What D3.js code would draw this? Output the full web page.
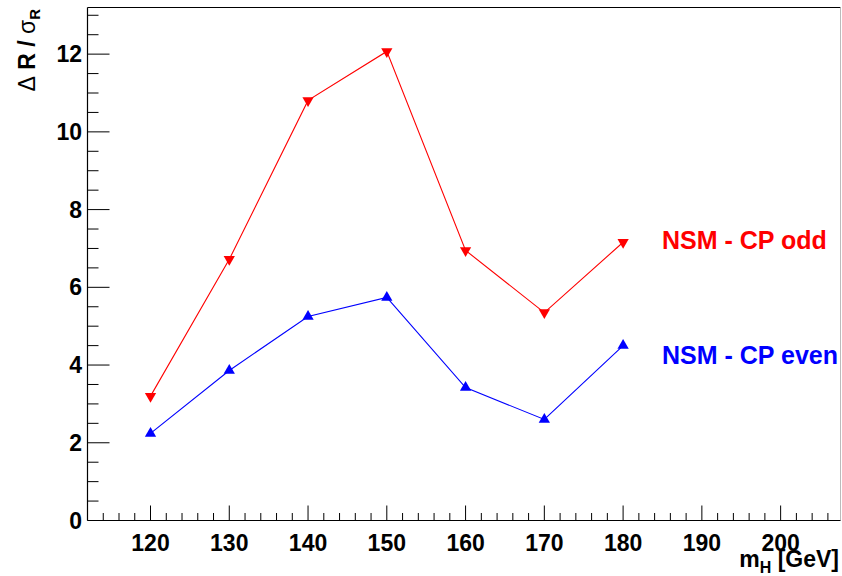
<!DOCTYPE html>
<html>
<head>
<meta charset="utf-8">
<script src="https://cdn.jsdelivr.net/npm/d3@7"></script>
<style>
  html, body { margin: 0; padding: 0; background: #fff; }
  svg { display: block; font-family: "Liberation Sans", Arial, Helvetica, sans-serif; }
</style>
</head>
<body>
<svg id="chart" width="842" height="576"></svg>
<script>
// Higgs mass points (GeV)
const masses = [120, 130, 140, 150, 160, 170, 180];
// Separation significance dR / sigma_R for each hypothesis
const cpOdd  = [3.2, 6.72, 10.81, 12.07, 6.95, 5.35, 7.16];
const cpEven = [2.24, 3.86, 5.25, 5.74, 3.42, 2.6, 4.5];
const xTickValues = [120, 130, 140, 150, 160, 170, 180, 190, 200];
const yTickValues = [0, 2, 4, 6, 8, 10, 12];
const seriesNames = ["NSM - CP odd", "NSM - CP even"];

const svg = d3.select("#chart");
const plotLeft = 87.5, plotRight = 840.5, plotTop = 7.5, plotBottom = 520.5;

const x = d3.scaleLinear().domain([112, 207.6]).range([plotLeft, plotRight]);
const y = d3.scaleLinear().domain([0, 13.2]).range([plotBottom, plotTop]);

// frame
svg.append("line").attr("x1", plotLeft).attr("x2", plotRight).attr("y1", plotTop).attr("y2", plotTop)
  .attr("stroke", "#000").attr("stroke-width", 1.2);
svg.append("line").attr("x1", plotRight).attr("x2", plotRight).attr("y1", plotTop).attr("y2", plotBottom)
  .attr("stroke", "#bbb").attr("stroke-width", 1);

// x axis: major ticks every 10, minor every 2
const xMinor = d3.range(114, 207, 2).filter(v => v % 10 !== 0);
const xAxisG = svg.append("g");
xAxisG.selectAll("line.minor").data(xMinor).join("line")
  .attr("x1", d => x(d)).attr("x2", d => x(d))
  .attr("y1", plotBottom).attr("y2", plotBottom - 7.5)
  .attr("stroke", "#000").attr("stroke-width", 1);
xAxisG.selectAll("line.major").data(d3.range(120, 207, 10)).join("line")
  .attr("x1", d => x(d)).attr("x2", d => x(d))
  .attr("y1", plotBottom).attr("y2", plotBottom - 15)
  .attr("stroke", "#000").attr("stroke-width", 1);
xAxisG.append("line").attr("x1", plotLeft).attr("x2", plotRight).attr("y1", plotBottom).attr("y2", plotBottom)
  .attr("stroke", "#000").attr("stroke-width", 1.2);
xAxisG.selectAll("text").data(xTickValues).join("text")
  .attr("x", d => x(d)).attr("y", 551)
  .attr("text-anchor", "middle").attr("font-size", 23).attr("font-weight", "bold")
  .text(d => d);

// y axis: major ticks every 2, minor every 0.5
const yMinor = d3.range(0.5, 13.2, 0.5).filter(v => v % 2 !== 0);
const yAxisG = svg.append("g");
yAxisG.selectAll("line.minor").data(yMinor).join("line")
  .attr("x1", plotLeft).attr("x2", plotLeft + 11)
  .attr("y1", d => y(d)).attr("y2", d => y(d))
  .attr("stroke", "#000").attr("stroke-width", 1);
yAxisG.selectAll("line.major").data(yTickValues).join("line")
  .attr("x1", plotLeft).attr("x2", plotLeft + 22)
  .attr("y1", d => y(d)).attr("y2", d => y(d))
  .attr("stroke", "#000").attr("stroke-width", 1);
yAxisG.append("line").attr("x1", plotLeft).attr("x2", plotLeft).attr("y1", plotTop).attr("y2", plotBottom)
  .attr("stroke", "#000").attr("stroke-width", 1.2);
yAxisG.selectAll("text").data(yTickValues).join("text")
  .attr("x", 82).attr("y", d => y(d) + 8)
  .attr("text-anchor", "end").attr("font-size", 23).attr("font-weight", "bold")
  .text(d => d);

// axis titles
const xt = svg.append("text").attr("x", 839).attr("y", 567)
  .attr("text-anchor", "end").attr("font-size", 23).attr("font-weight", "bold");
xt.append("tspan").text("m");
xt.append("tspan").attr("dy", 6).attr("font-size", 16).text("H");
xt.append("tspan").attr("dy", -6).text(" [GeV]");

const yt = svg.append("text").attr("transform", "translate(35,9) rotate(-90)")
  .attr("text-anchor", "end").attr("font-size", 23).attr("font-weight", "bold");
yt.append("tspan").attr("font-weight", "normal").text("Δ");
yt.append("tspan").text(" R / ");
yt.append("tspan").attr("font-weight", "normal").text("σ");
yt.append("tspan").attr("dy", 5).attr("font-size", 15).text("R");

// series
const line = d3.line().x((d, i) => x(masses[i])).y(d => y(d));
const series = [
  { values: cpOdd, color: "#ff0000", down: true },
  { values: cpEven, color: "#0000ff", down: false }
];
const tri = d3.symbol().type(d3.symbolTriangle).size(55);
series.forEach(s => {
  svg.append("path").datum(s.values).attr("d", line)
    .attr("fill", "none").attr("stroke", s.color).attr("stroke-width", 1.1);
  svg.selectAll(null).data(s.values).join("path")
    .attr("d", tri)
    .attr("transform", (d, i) => `translate(${x(masses[i])},${y(d)})` + (s.down ? " rotate(180)" : ""))
    .attr("fill", s.color);
});

// series labels
svg.append("text").attr("x", 662).attr("y", 248.5).attr("fill", "#ff0000")
  .attr("font-size", 25).attr("font-weight", "bold").text(seriesNames[0]);
svg.append("text").attr("x", 662).attr("y", 363.5).attr("fill", "#0000ff")
  .attr("font-size", 25).attr("font-weight", "bold").text(seriesNames[1]);
</script>
</body>
</html>
